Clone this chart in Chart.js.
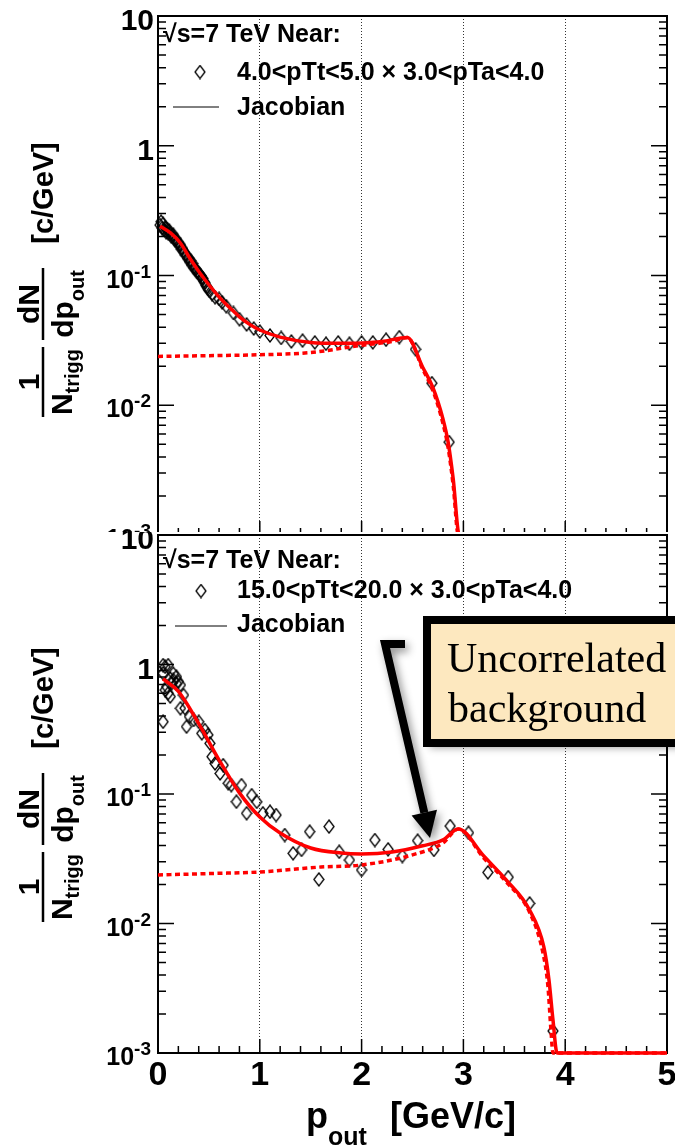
<!DOCTYPE html>
<html>
<head>
<meta charset="utf-8">
<script src="https://cdn.jsdelivr.net/npm/chart.js@4.4.0/dist/chart.umd.min.js"></script>
<style>
html, body { margin: 0; padding: 0; background: #fff; }
#wrap { position: relative; width: 675px; height: 1146px; overflow: hidden; }
canvas { position: absolute; left: 0; }
#c1 { top: 0; }
#c2 { top: 532px; background: #fff; }
</style>
</head>
<body>
<div id="wrap">
<canvas id="c1" width="675" height="560"></canvas>
<canvas id="c2" width="675" height="614"></canvas>
</div>
<script>
// top panel: 4.0<pTt<5.0
var topPtsX = [0.02,0.03,0.04,0.05,0.06,0.07,0.08,0.09,0.10,0.11,0.12,0.13,0.14,0.15,0.16,0.17,0.18,0.19,0.20,0.21,0.22,0.23,0.24,0.25,0.26,0.27,0.28,0.29,0.30,0.31,0.32,0.33,0.34,0.35,0.36,0.37,0.38,0.39,0.40,0.41,0.42,0.43,0.44,0.45,0.46,0.47,0.48,0.49,0.50,
               0.53,0.56,0.60,0.63,0.67,0.74,0.80,0.87,0.94,1.00,1.10,1.21,1.31,1.42,1.54,1.65,1.77,1.88,2.00,2.11,2.24,2.37,2.53,2.69,2.86];
var topPtsY = [0.245,0.26,0.232,0.25,0.225,0.235,0.215,0.228,0.212,0.222,0.21,0.2,0.205,0.206,0.195,0.186,0.19,0.178,0.18,0.172,0.172,0.16,0.162,0.154,0.15,0.144,0.143,0.136,0.136,0.128,0.13,0.121,0.124,0.115,0.114,0.112,0.107,0.106,0.104,0.101,0.1,0.096,0.095,0.09,0.088,0.084,0.082,0.079,0.077,
               0.072,0.068,0.066,0.062,0.058,0.0515,0.046,0.042,0.039,0.037,0.0345,0.033,0.031,0.0315,0.0305,0.0298,0.0305,0.0298,0.0305,0.0305,0.032,0.0335,0.027,0.0148,0.0052];
var topFitX = [0.02,0.12,0.22,0.31,0.41,0.51,0.61,0.71,0.8,0.9,1.0,1.2,1.5,1.8,2.0,2.2,2.45,2.6,2.7,2.8,2.85,2.9,2.96,3.2,5.0];
var topFitY = [0.24,0.214,0.178,0.137,0.105,0.083,0.067,0.056,0.048,0.042,0.038,0.0335,0.0305,0.030,0.0302,0.031,0.0333,0.0196,0.0137,0.0078,0.0052,0.0027,0.001,0.001,0.001];
var topBkgX = [0.0,0.5,1.0,1.5,2.0,2.3,2.45,2.6,2.7,2.8,2.85,2.9,2.95,3.2,5.0];
var topBkgY = [0.0238,0.0241,0.0245,0.0255,0.029,0.031,0.0333,0.019,0.013,0.0072,0.0047,0.0024,0.001,0.001,0.001];

// bottom panel: 15.0<pTt<20.0
var botPtsX = [0.05,0.05,0.05,0.07,0.07,0.085,0.10,0.10,0.12,0.12,0.134,0.15,0.15,0.18,0.18,0.20,0.22,0.22,0.25,0.265,0.28,0.31,0.35,0.40,0.43,0.46,0.49,0.51,0.53,0.56,0.61,0.64,0.69,0.72,0.77,0.82,0.87,0.92,0.97,1.03,1.10,1.16,1.245,1.327,1.41,1.49,1.58,1.68,1.78,1.88,2.0,2.13,2.26,2.40,2.55,2.71,2.87,3.05,3.24,3.44,3.65,3.88];
var botPtsY = [0.361,0.855,0.99,0.96,0.635,0.674,0.99,0.6,0.78,0.565,0.716,0.76,0.85,0.716,0.805,0.736,0.695,0.459,0.581,0.46,0.331,0.395,0.373,0.361,0.294,0.312,0.286,0.246,0.194,0.172,0.144,0.167,0.121,0.117,0.0872,0.117,0.071,0.098,0.087,0.071,0.073,0.0688,0.0482,0.0348,0.037,0.0512,0.0219,0.056,0.0358,0.0309,0.0259,0.0441,0.0374,0.0332,0.0436,0.037,0.0566,0.0502,0.0248,0.0228,0.0143,0.00148];
var botFitX = [0.05,0.2,0.4,0.6,0.8,1.0,1.2,1.5,1.8,2.0,2.3,2.6,2.8,2.95,3.2,3.42,3.65,3.79,3.84,3.88,3.92,5.0];
var botFitY = [0.773,0.62,0.35,0.183,0.102,0.0664,0.050,0.0383,0.035,0.0344,0.0356,0.0398,0.0442,0.0537,0.0332,0.0217,0.0127,0.0066,0.0037,0.0018,0.001,0.001];
var botBkgX = [0.0,0.5,1.0,1.6,2.0,2.5,2.8,2.95,3.2,3.42,3.65,3.78,3.83,3.86,3.88,5.0];
var botBkgY = [0.0237,0.0243,0.025,0.0273,0.0283,0.0339,0.0419,0.0537,0.032,0.021,0.0122,0.006,0.0033,0.0015,0.001,0.001];

var yTickVals = [10, 1, 0.1, 0.01, 0.001];

var FONT = "'Liberation Sans', Arial, Helvetica, sans-serif";

function pairs(xs, ys) {
    return xs.map(function(x, i) { return {x: x, y: ys[i]}; });
}

// open diamond marker, a bit taller than wide like the ROOT one
function makeDiamond() {
    var c = document.createElement('canvas');
    c.width = 12; c.height = 15;
    var g = c.getContext('2d');
    g.strokeStyle = '#000';
    g.lineWidth = 1.3;
    g.beginPath();
    g.moveTo(6, 1); g.lineTo(11, 7.5); g.lineTo(6, 14); g.lineTo(1, 7.5);
    g.closePath();
    g.stroke();
    return c;
}
var diamond = makeDiamond();

function textW(ctx, txt, size) {
    ctx.font = 'bold ' + size + 'px ' + FONT;
    return ctx.measureText(txt).width;
}

function rotText(ctx, txt, bx, startY, size) {
    ctx.save();
    ctx.font = 'bold ' + size + 'px ' + FONT;
    ctx.translate(bx, startY);
    ctx.rotate(-Math.PI / 2);
    ctx.textAlign = 'left';
    ctx.textBaseline = 'alphabetic';
    ctx.fillText(txt, 0, 0);
    ctx.restore();
}

function drawYTitle(ctx, dy) {
    ctx.save();
    ctx.fillStyle = '#000';
    ctx.strokeStyle = '#000';
    ctx.lineWidth = 2.5;
    var t = '[c/GeV]';
    rotText(ctx, t, 53, 193 + dy + textW(ctx, t, 29) / 2, 29);

    var c2 = 304 + dy;
    rotText(ctx, 'dN', 39, c2 + textW(ctx, 'dN', 30) / 2, 30);
    var wd = textW(ctx, 'dp', 30), wo = textW(ctx, 'out', 20);
    var s = c2 + (wd + wo) / 2;
    rotText(ctx, 'dp', 73, s, 30);
    rotText(ctx, 'out', 84, s - wd, 20);
    ctx.beginPath(); ctx.moveTo(43, c2 - 36); ctx.lineTo(43, c2 + 36); ctx.stroke();

    var c1 = 382 + dy;
    rotText(ctx, '1', 39, c1 + textW(ctx, '1', 30) / 2, 30);
    var wn = textW(ctx, 'N', 30), wt = textW(ctx, 'trigg', 20);
    s = c1 + (wn + wt) / 2;
    rotText(ctx, 'N', 72, s, 30);
    rotText(ctx, 'trigg', 79, s - wn, 20);
    ctx.beginPath(); ctx.moveTo(43, c1 - 35); ctx.lineTo(43, c1 + 35); ctx.stroke();
    ctx.restore();
}

function drawYLabels(ctx, ys) {
    ctx.save();
    ctx.fillStyle = '#000';
    ctx.textBaseline = 'alphabetic';
    yTickVals.forEach(function(v) {
        var py = ys.getPixelForValue(v);
        var e = Math.round(Math.log10(v));
        if (e >= 0) {
            ctx.font = 'bold 30px ' + FONT;
            ctx.textAlign = 'right';
            ctx.fillText(String(v), 154, py + 14);
        } else {
            var sup = String(e);
            var wsup = textW(ctx, sup, 19);
            var w10 = textW(ctx, '10', 25);
            ctx.textAlign = 'left';
            ctx.font = 'bold 25px ' + FONT;
            ctx.fillText('10', 151 - wsup - w10, py + 12);
            ctx.font = 'bold 19px ' + FONT;
            ctx.fillText(sup, 151 - wsup, py + 2);
        }
    });
    ctx.restore();
}

function drawLegend(ctx, L) {
    ctx.save();
    ctx.fillStyle = '#000';
    ctx.textAlign = 'left';
    ctx.textBaseline = 'alphabetic';
    ctx.font = 'bold 25px ' + FONT;
    ctx.fillText('\u221As=7 TeV Near:', 163, L.y1);
    ctx.fillText(L.text, 237, L.y2);
    ctx.fillText('Jacobian', 237, L.y3);
    ctx.drawImage(diamond, L.dx - 6, L.dy - 7.5);
    ctx.strokeStyle = '#000';
    ctx.lineWidth = 1;
    ctx.beginPath(); ctx.moveTo(L.lx0, L.ly); ctx.lineTo(L.lx1, L.ly); ctx.stroke();
    ctx.restore();
}

function drawXTitle(ctx, off) {
    ctx.save();
    ctx.fillStyle = '#000';
    ctx.textAlign = 'left';
    ctx.textBaseline = 'alphabetic';
    var wp = textW(ctx, 'p', 36);
    ctx.font = 'bold 36px ' + FONT;
    ctx.fillText('p', 306, 1128 - off);
    ctx.fillText('[GeV/c]', 390, 1128 - off);
    ctx.font = 'bold 25px ' + FONT;
    ctx.fillText('out', 306 + wp, 1145 - off);
    ctx.restore();
}

function drawNote(ctx, off) {
    ctx.save();
    ctx.shadowColor = 'rgba(0,0,0,0.45)';
    ctx.shadowBlur = 8;
    ctx.shadowOffsetX = 3;
    ctx.shadowOffsetY = 4;
    // arrow with bracket
    ctx.strokeStyle = '#000';
    ctx.fillStyle = '#000';
    ctx.lineWidth = 8;
    ctx.lineJoin = 'miter';
    ctx.beginPath();
    ctx.moveTo(405, 644 - off);
    ctx.lineTo(385, 644 - off);
    ctx.lineTo(424.3, 812.6 - off);
    ctx.stroke();
    ctx.beginPath();
    ctx.moveTo(430, 838 - off);
    ctx.lineTo(437, 809.7 - off);
    ctx.lineTo(411.6, 815.5 - off);
    ctx.closePath();
    ctx.fill();
    // box
    ctx.fillStyle = '#fde8bf';
    ctx.fillRect(427, 620 - off, 280, 123);
    ctx.shadowColor = 'rgba(0,0,0,0)';
    ctx.lineWidth = 8;
    ctx.strokeRect(427, 620 - off, 280, 123);
    ctx.fillStyle = '#000';
    ctx.font = "42px 'Liberation Serif', 'Times New Roman', serif";
    ctx.textAlign = 'left';
    ctx.textBaseline = 'alphabetic';
    ctx.fillText('Uncorrelated', 447, 672 - off);
    ctx.fillText('background', 448, 722 - off);
    ctx.restore();
}

function panelPlugin(cfg) {
    return {
        id: 'panel',
        beforeDatasetsDraw: function(chart) {
            var ctx = chart.ctx, a = chart.chartArea;
            var xs = chart.scales.x, ys = chart.scales.y;
            ctx.save();
            ctx.strokeStyle = '#000';
            ctx.lineWidth = 1.5;
            ctx.beginPath();
            for (var e = -3; e <= 1; e++) {
                var dec = Math.pow(10, e);
                var py = ys.getPixelForValue(dec);
                ctx.moveTo(a.left, py); ctx.lineTo(a.left + 16, py);
                ctx.moveTo(a.right, py); ctx.lineTo(a.right - 16, py);
                if (e < 1) {
                    for (var m = 2; m <= 9; m++) {
                        var pm = ys.getPixelForValue(m * dec);
                        ctx.moveTo(a.left, pm); ctx.lineTo(a.left + 8, pm);
                        ctx.moveTo(a.right, pm); ctx.lineTo(a.right - 8, pm);
                    }
                }
            }
            for (var i = 0; i <= 25; i++) {
                var px = xs.getPixelForValue(i * 0.2);
                var len = (i % 5 === 0) ? 14 : 7;
                ctx.moveTo(px, a.bottom); ctx.lineTo(px, a.bottom - len);
            }
            ctx.stroke();
            ctx.lineWidth = 2;
            ctx.strokeRect(a.left, a.top, a.right - a.left, a.bottom - a.top);
            ctx.restore();
        },
        afterDraw: function(chart) {
            var ctx = chart.ctx;
            drawYLabels(ctx, chart.scales.y);
            drawYTitle(ctx, cfg.titleDy);
            drawLegend(ctx, cfg.legend);
            if (cfg.bottom) {
                drawXTitle(ctx, cfg.off);
                drawNote(ctx, cfg.off);
            }
        }
    };
}

function makeChart(id, pts, fit, bkg, cfg) {
    return new Chart(document.getElementById(id), {
        type: 'scatter',
        data: {
            datasets: [
                {
                    data: fit,
                    showLine: true,
                    borderColor: '#ff0000',
                    borderWidth: 3.5,
                    pointRadius: 0,
                    cubicInterpolationMode: 'monotone',
                    clip: 4,
                    order: 0
                },
                {
                    data: bkg,
                    showLine: true,
                    borderColor: '#ff0000',
                    borderWidth: 3.5,
                    borderDash: [5, 3.5],
                    pointRadius: 0,
                    cubicInterpolationMode: 'monotone',
                    clip: 4,
                    order: 1
                },
                {
                    data: pts,
                    pointStyle: diamond,
                    pointRadius: 6,
                    clip: 8,
                    order: 2
                }
            ]
        },
        options: {
            responsive: false,
            animation: false,
            devicePixelRatio: 1,
            layout: {
                autoPadding: false,
                padding: { top: cfg.padTop, right: 8, left: 0, bottom: 0 }
            },
            plugins: {
                legend: { display: false },
                tooltip: { enabled: false }
            },
            scales: {
                x: {
                    type: 'linear',
                    min: 0,
                    max: 5,
                    ticks: {
                        display: cfg.bottom,
                        stepSize: 1,
                        padding: 2,
                        maxRotation: 0,
                        color: '#000',
                        font: { family: FONT, size: 34, weight: 'bold' }
                    },
                    grid: {
                        drawTicks: false,
                        lineWidth: 1,
                        color: function(c) {
                            var v = c.tick ? c.tick.value : 0;
                            return (v > 0 && v < 5) ? 'rgba(0,0,0,0.8)' : 'rgba(0,0,0,0)';
                        }
                    },
                    border: { display: false, dash: [1, 2] },
                    afterFit: function(s) {
                        s.height = cfg.xHeight;
                        s.paddingLeft = 0;
                        s.paddingRight = 0;
                    }
                },
                y: {
                    type: 'logarithmic',
                    min: 0.001,
                    max: 10,
                    ticks: { display: false },
                    grid: { display: false },
                    border: { display: false },
                    afterFit: function(s) {
                        s.width = 158;
                        s.paddingTop = 0;
                        s.paddingBottom = 0;
                    }
                }
            }
        },
        plugins: [panelPlugin(cfg)]
    });
}

makeChart('c1', pairs(topPtsX, topPtsY), pairs(topFitX, topFitY), pairs(topBkgX, topBkgY), {
    bottom: false,
    padTop: 16,
    xHeight: 25,
    titleDy: 0,
    off: 0,
    legend: { y1: 42, y2: 80, y3: 115, text: '4.0<pTt<5.0 \u00D7 3.0<pTa<4.0', dx: 200, dy: 72, lx0: 173, lx1: 219, ly: 107 }
});

makeChart('c2', pairs(botPtsX, botPtsY), pairs(botFitX, botFitY), pairs(botBkgX, botBkgY), {
    bottom: true,
    padTop: 3,
    xHeight: 93,
    titleDy: -27,
    off: 532,
    legend: { y1: 36, y2: 66, y3: 100, text: '15.0<pTt<20.0 \u00D7 3.0<pTa<4.0', dx: 201, dy: 59, lx0: 175, lx1: 227, ly: 94 }
});
</script>
</body>
</html>
